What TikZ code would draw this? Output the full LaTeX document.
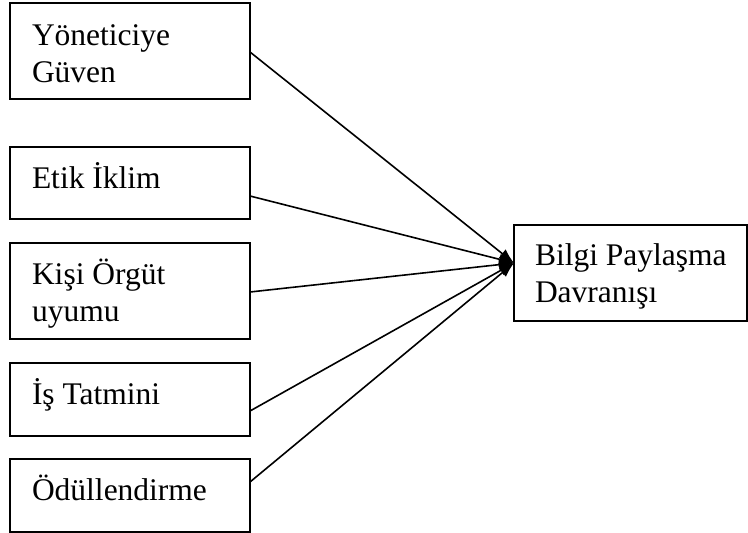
\documentclass[tikz,border=0pt]{standalone}
\usepackage{fontspec}
\setmainfont{Liberation Serif}
\usetikzlibrary{arrows.meta,calc}
\begin{document}
\begin{tikzpicture}[x=1pt,y=-1pt,
  box/.style={draw,line width=1.4pt,rectangle,inner sep=0pt,outer sep=0pt,anchor=north west},
  lbl/.style={anchor=base west,inner sep=0pt,outer sep=0pt,align=left,font=\fontsize{31.5}{37}\selectfont},
  conn/.style={line width=1.6pt,-{Latex[length=15pt,width=11pt]}}]
\useasboundingbox (0,0) rectangle (748,533);
\node[box,minimum width=240pt,minimum height=96pt] (b1) at (10,3) {};
\node[box,minimum width=240pt,minimum height=72pt] (b2) at (10,147) {};
\node[box,minimum width=240pt,minimum height=96pt] (b3) at (10,243) {};
\node[box,minimum width=240pt,minimum height=73pt] (b4) at (10,363) {};
\node[box,minimum width=240pt,minimum height=73pt] (b5) at (10,459) {};
\node[box,minimum width=233pt,minimum height=96pt] (r) at (514,225) {};
\node[lbl] (t1) at ($(b1.north west)+(22,79)$) {Yöneticiye\\Güven};
\node[lbl] (t2) at ($(b2.north west)+(22,41)$) {Etik İklim};
\node[lbl] (t3) at ($(b3.north west)+(22,78)$) {Kişi Örgüt\\uyumu};
\node[lbl] (t4) at ($(b4.north west)+(22,41)$) {İş Tatmini};
\node[lbl] (t5) at ($(b5.north west)+(22,41)$) {Ödüllendirme};
\node[lbl] (tr) at ($(r.north west)+(21,77)$) {Bilgi Paylaşma\\Davranışı};
\coordinate (tip) at ([yshift=10pt]r.west);
\draw[conn] ([yshift=-1pt]b1.east) -- (tip);
\draw[conn] ([yshift=-13pt]b2.east) -- (tip);
\draw[conn] ([yshift=-1pt]b3.east) -- (tip);
\draw[conn] ([yshift=-11.5pt]b4.east) -- (tip);
\draw[conn] ([yshift=13.5pt]b5.east) -- (tip);
\end{tikzpicture}
\end{document}
